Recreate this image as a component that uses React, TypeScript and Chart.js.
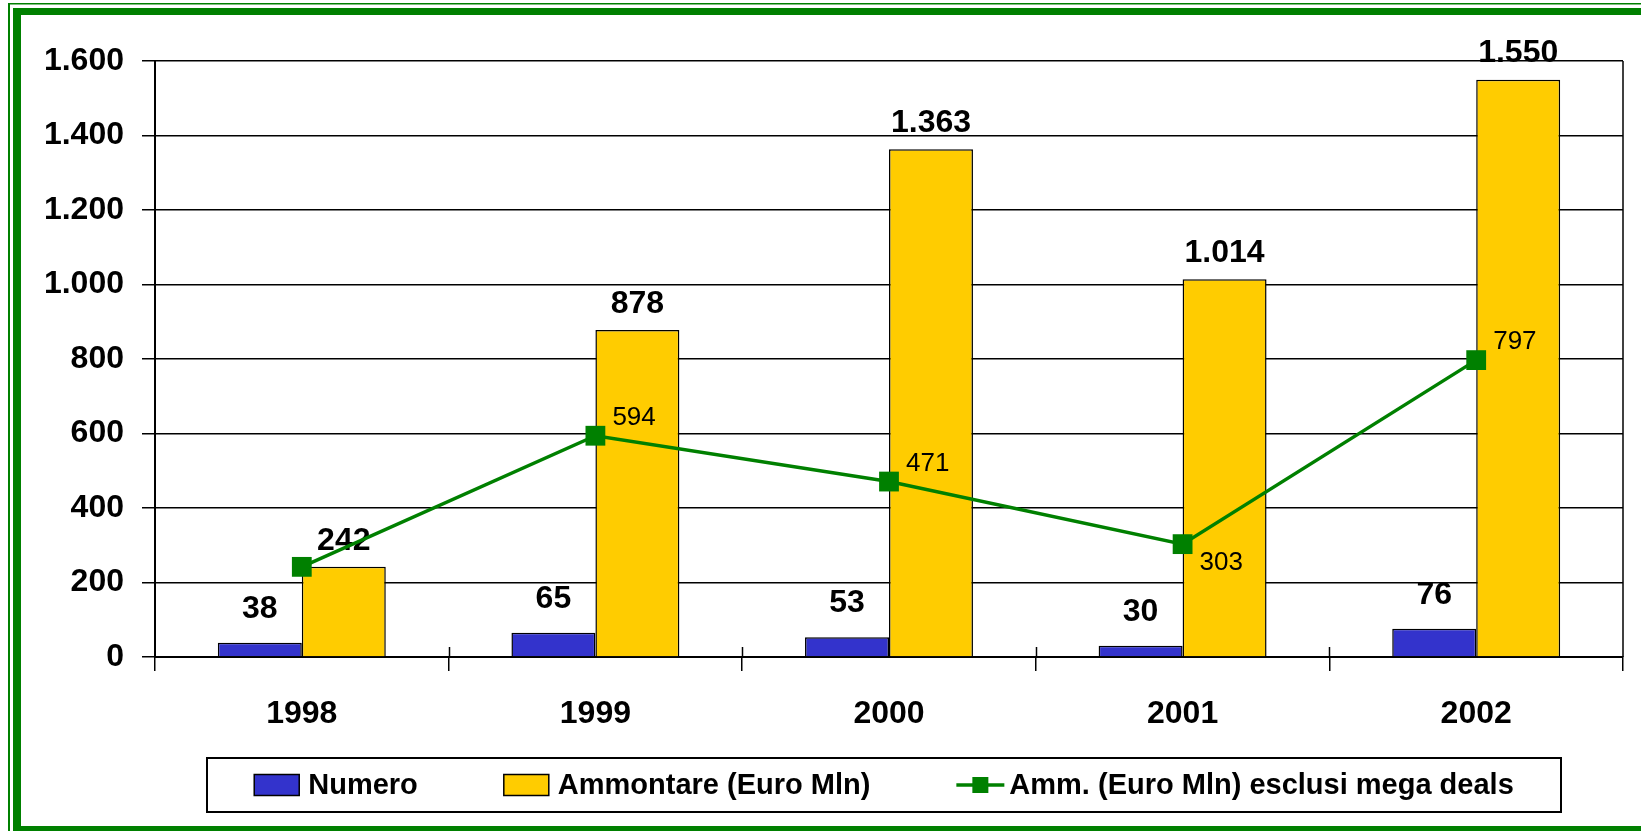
import React, { useEffect, useRef } from "react";
import { Chart, registerables } from "chart.js";

Chart.register(...registerables);

const categories = ["1998", "1999", "2000", "2001", "2002"];
const numero = [38, 65, 53, 30, 76];
const ammontare = [242, 878, 1363, 1014, 1550];
const ammEsclusiMega = [242, 594, 471, 303, 797];
const seriesLabels = [
  "Numero",
  "Ammontare (Euro Mln)",
  "Amm. (Euro Mln) esclusi mega deals",
];
const yMin = 0;
const yMax = 1600;
const yStep = 200;

const FONT = '"Liberation Sans", Arial, Helvetica, sans-serif';
const GREEN = "#008000";
const BLUE = "#3333CC";
const YELLOW = "#FFCC00";

const fmt = (v: number) =>
  String(Math.round(v)).replace(/\B(?=(\d{3})+(?!\d))/g, ".");

// placement of the line's value labels (style choice)
const lineLabelPlacement = ["none", "above", "above", "below", "above"];

const framePlugin = {
  id: "frame",
  beforeDraw(chart: any) {
    const { ctx, width, height } = chart;
    ctx.save();
    ctx.fillStyle = "#ffffff";
    ctx.fillRect(0, 0, width, height);
    ctx.fillStyle = GREEN;
    ctx.fillRect(8, 3, width, 1.5);
    ctx.fillRect(8, 3, 2, height);
    ctx.fillRect(13, 8, width, 7);
    ctx.fillRect(13, 8, 8, height);
    ctx.fillRect(13, 826, width, 10);
    ctx.restore();
  },
  afterDraw(chart: any) {
    const { ctx, chartArea } = chart;
    ctx.save();
    ctx.strokeStyle = "#000";
    ctx.lineWidth = 1.5;
    ctx.beginPath();
    ctx.moveTo(chartArea.right, chartArea.top);
    ctx.lineTo(chartArea.right, chartArea.bottom);
    ctx.stroke();
    const n = chart.data.labels.length;
    const w = (chartArea.right - chartArea.left) / n;
    for (let i = 1; i < n; i++) {
      const x = Math.round(chartArea.left + i * w) + 0.5;
      ctx.beginPath();
      ctx.moveTo(x, chartArea.bottom - 10);
      ctx.lineTo(x, chartArea.bottom);
      ctx.stroke();
    }

    // legend
    const box = { x: 207, y: 758, w: 1354, h: 54 };
    ctx.lineWidth = 2;
    ctx.strokeStyle = "#000";
    ctx.strokeRect(box.x, box.y, box.w, box.h);
    ctx.font = `bold 29px ${FONT}`;
    ctx.textBaseline = "middle";
    ctx.textAlign = "left";
    const ds = chart.data.datasets;
    const items = ds.map((d: any) => ({
      label: d.label,
      type: d.type,
      color: d.type === "line" ? d.borderColor : d.backgroundColor,
      tw: ctx.measureText(d.label).width,
    }));
    const swW = 45, swGap = 9, lnW = 48, lnGap = 5, itemGap = 86;
    let total = 0;
    items.forEach((it: any, i: number) => {
      total += (it.type === "line" ? lnW + lnGap : swW + swGap) + it.tw;
      if (i < items.length - 1) total += itemGap;
    });
    let x = box.x + (box.w - total) / 2;
    const cy = box.y + box.h / 2;
    items.forEach((it: any) => {
      if (it.type === "line") {
        ctx.strokeStyle = it.color;
        ctx.lineWidth = 3.5;
        ctx.beginPath();
        ctx.moveTo(x, cy);
        ctx.lineTo(x + lnW, cy);
        ctx.stroke();
        ctx.fillStyle = it.color;
        ctx.fillRect(x + lnW / 2 - 8, cy - 8, 16, 16);
        x += lnW + lnGap;
      } else {
        ctx.fillStyle = it.color;
        ctx.fillRect(x, cy - 10.5, swW, 21);
        ctx.strokeStyle = "#000";
        ctx.lineWidth = 1.5;
        ctx.strokeRect(x, cy - 10.5, swW, 21);
        x += swW + swGap;
      }
      ctx.fillStyle = "#000";
      ctx.fillText(it.label, x, cy + 1);
      x += it.tw + itemGap;
    });
    ctx.restore();
  },
};

const labelsPlugin = {
  id: "valueLabels",
  afterDatasetDraw(chart: any, args: any) {
    const ds = chart.data.datasets[args.index];
    if (ds.type !== "bar") return;
    const { ctx } = chart;
    const meta = chart.getDatasetMeta(args.index);
    const off = args.index === 0 ? 34 : 26;
    ctx.save();
    ctx.font = `bold 32px ${FONT}`;
    ctx.fillStyle = "#000";
    ctx.textAlign = "center";
    ctx.textBaseline = "middle";
    meta.data.forEach((el: any, i: number) => {
      ctx.fillText(fmt(ds.data[i]), el.x, el.y - off);
    });
    ctx.restore();
  },
  afterDatasetsDraw(chart: any) {
    const { ctx } = chart;
    ctx.save();
    ctx.font = `26px ${FONT}`;
    ctx.fillStyle = "#000";
    ctx.textAlign = "left";
    ctx.textBaseline = "middle";
    chart.data.datasets.forEach((ds: any, di: number) => {
      if (ds.type !== "line") return;
      const meta = chart.getDatasetMeta(di);
      meta.data.forEach((el: any, i: number) => {
        const p = lineLabelPlacement[i];
        if (p === "none") return;
        const dy = p === "below" ? 19 : -18;
        ctx.fillText(fmt(ds.data[i]), el.x + 17, el.y + dy);
      });
    });
    ctx.restore();
  },
};

export default function App() {
  const ref = useRef<HTMLCanvasElement | null>(null);

  useEffect(() => {
    if (!ref.current) return;
    const chart = new Chart(ref.current, {
      type: "bar",
      data: {
        labels: categories,
        datasets: [
          {
            type: "bar",
            label: seriesLabels[0],
            data: numero,
            backgroundColor: BLUE,
            borderColor: "#000",
            borderWidth: 1.5,
            order: 1,
          },
          {
            type: "bar",
            label: seriesLabels[1],
            data: ammontare,
            backgroundColor: YELLOW,
            borderColor: "#000",
            borderWidth: 1.5,
            order: 2,
          },
          {
            type: "line",
            label: seriesLabels[2],
            data: ammEsclusiMega,
            borderColor: GREEN,
            backgroundColor: GREEN,
            borderWidth: 3.5,
            pointStyle: "rect",
            pointRadius: 14,
            pointBackgroundColor: GREEN,
            pointBorderColor: GREEN,
            pointBorderWidth: 0,
            tension: 0,
            order: 0,
          },
        ] as any,
      },
      options: {
        animation: false,
        responsive: false,
        maintainAspectRatio: false,
        layout: { padding: { left: 0, right: 18, top: 61, bottom: 94 } },
        datasets: {
          bar: { categoryPercentage: 0.572, barPercentage: 1 },
        } as any,
        plugins: {
          legend: { display: false },
          tooltip: { enabled: false },
        },
        scales: {
          x: {
            grid: {
              offset: true,
              drawOnChartArea: false,
              drawTicks: true,
              tickLength: 14,
              color: "#000",
              lineWidth: 1.5,
            },
            border: { color: "#000", width: 2 },
            ticks: {
              font: { family: FONT, size: 32, weight: "bold" },
              color: "#000",
              padding: 24,
              maxRotation: 0,
            },
            afterFit(s: any) {
              s.height = 80;
            },
          },
          y: {
            min: yMin,
            max: yMax,
            ticks: {
              stepSize: yStep,
              callback: (v: any) => fmt(Number(v)),
              font: { family: FONT, size: 32, weight: "bold" },
              color: "#000",
              padding: 18,
            },
            grid: { color: "#000", lineWidth: 1.5, tickLength: 13 },
            border: { color: "#000", width: 2 },
            afterFit(s: any) {
              s.width = 155;
            },
          },
        } as any,
      },
      plugins: [framePlugin, labelsPlugin],
    });
    return () => chart.destroy();
  }, []);

  return (
    <div style={{ position: "absolute", left: 0, top: 0, width: 1641, height: 831 }}>
      <canvas
        ref={ref}
        width={1641}
        height={831}
        style={{ display: "block", width: 1641, height: 831 }}
      />
    </div>
  );
}
